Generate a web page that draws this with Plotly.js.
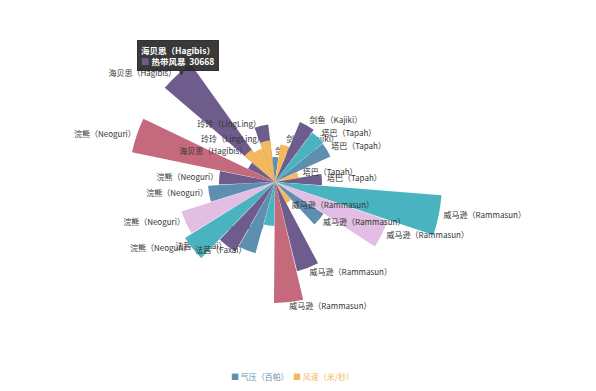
<!DOCTYPE html>
<html><head><meta charset="utf-8">
<script src="https://cdn.plot.ly/plotly-3.0.1.min.js"></script>
<style>html,body{margin:0;padding:0;background:#fff}#chart{width:596px;height:391px}</style>
</head><body><div id="chart"></div>
<script>
// ---- data ----
const typhoons = [
  "剑鱼（Kajiki）","剑鱼（Kajiki）","剑鱼（Kajiki）",
  "塔巴（Tapah）","塔巴（Tapah）","塔巴（Tapah）","塔巴（Tapah）",
  "威马逊（Rammasun）","威马逊（Rammasun）","威马逊（Rammasun）","威马逊（Rammasun）","威马逊（Rammasun）","威马逊（Rammasun）",
  "法茜（Faxai）","法茜（Faxai）","法茜（Faxai）",
  "浣熊（Neoguri）","浣熊（Neoguri）","浣熊（Neoguri）","浣熊（Neoguri）","浣熊（Neoguri）",
  "海贝思（Hagibis）","海贝思（Hagibis）","玲玲（LingLing）","玲玲（LingLing）"
];
const outerValues = [25,38,65,62,61,24,47,167,119,58,24,92,121,44,74,80,106,98,67,56,146,30,145,36,58];
const innerValues = [null,null,null,null,null,null,null,null,null,null,null,null,null,null,null,null,null,null,null,null,null,null,40,null,42];
// 1 = label drawn under the bars, 0 = over the bars, -1 = no label shown
const labelLayer = [1,1,0,0,0,0,0,0,0,0,0,0,0,1,0,1,0,0,0,0,0,-1,0,-1,0];
const tooltipName = "海贝思（Hagibis）";
const tooltipSeries = "热带风暴";
const tooltipValue = 30668;
const legendNames = ["气压（百帕）","风速（米/秒）"];

// ---- styles ----
const C = {purple:"#6e5d8c", pink:"#c46a7c", teal:"#4ab3c0", yellow:"#f5b95c", steel:"#5e8fb0", lilac:"#e2bde4"};
const barColors = [C.steel,C.yellow,C.purple,C.teal,C.steel,C.yellow,C.purple,C.teal,C.lilac,C.steel,C.yellow,C.purple,C.pink,
  C.teal,C.steel,C.purple,C.teal,C.lilac,C.steel,C.purple,C.pink,C.purple,C.purple,C.yellow,C.purple];
const innerColor = C.yellow;
const gapRight = 5, gapLeft = 1;

const slots = typhoons.map((_, i) => "s" + i);
const labelFont = {family:"Noto Sans CJK SC, sans-serif", size:8, color:"#333"};

function labelTrace(subplot, layer){
  const th=[], r=[], tx=[], pos=[];
  slots.forEach((s,i)=>{
    const right = i*360/slots.length < 180;
    const side = right?"middle right":"middle left";
    const gap = right?gapRight:gapLeft;
    if (labelLayer[i]===layer) { th.push(s); r.push(outerValues[i]+gap); tx.push(typhoons[i]); pos.push(side); }
    if (layer===0 && innerValues[i]!=null) { th.push(s); r.push(innerValues[i]+gap); tx.push(typhoons[i]); pos.push(side); }
  });
  return {type:"scatterpolar", subplot:subplot, mode:"text", theta:th, r:r, text:tx, textposition:pos, textfont:labelFont, hoverinfo:"skip", showlegend:false};
}

const data = [
  labelTrace("polar", 1),
  {type:"barpolar", subplot:"polar2", theta:slots, r:outerValues, marker:{color:barColors, line:{width:0}}, width:0.97, showlegend:false, hoverinfo:"skip"},
  {type:"barpolar", subplot:"polar2", theta:slots, r:innerValues, marker:{color:innerColor, line:{width:0}}, width:0.97, showlegend:false, hoverinfo:"skip"},
  labelTrace("polar2", 0)
];

const cx=275, cy=182, R=180, W=596, H=391;
function polarCfg(){
  return {
    domain:{x:[(cx-R)/W,(cx+R)/W], y:[(H-cy-R)/H,(H-cy+R)/H]},
    bgcolor:"rgba(0,0,0,0)", barmode:"overlay",
    radialaxis:{range:[0,R], visible:false, showgrid:false},
    angularaxis:{type:"category", categoryarray:slots, direction:"clockwise", rotation:90-0.7, visible:false, showgrid:false, showline:false}
  };
}
const layout = {
  width:W, height:H, margin:{l:0,r:0,t:0,b:0}, paper_bgcolor:"#fff", plot_bgcolor:"rgba(0,0,0,0)", showlegend:false, hovermode:false,
  polar:polarCfg(), polar2:polarCfg(),
  annotations:[
    {xref:"paper", yref:"paper", x:137/W, y:1-40/H, xanchor:"left", yanchor:"top", align:"left", showarrow:false,
     bgcolor:"rgba(40,40,40,0.92)", bordercolor:"rgba(40,40,40,0.92)", borderpad:3,
     text:"<b>"+tooltipName+"</b><br><span style='color:"+C.purple+"'>■</span> <b>"+tooltipSeries+"  "+tooltipValue+"</b>",
     font:{family:"Noto Sans CJK SC, sans-serif", size:8.5, color:"#fff"}},
    {xref:"paper", yref:"paper", x:181/W, y:1-72/H, xanchor:"center", yanchor:"middle", showarrow:false,
     text:"▼", font:{family:"DejaVu Sans, sans-serif", size:6, color:"#333"}},
    {xref:"paper", yref:"paper", x:229/W, y:1-376/H, xanchor:"left", yanchor:"middle", showarrow:false,
     text:"■ "+legendNames[0], font:{family:"Noto Sans CJK SC, sans-serif", size:8, color:C.steel}},
    {xref:"paper", yref:"paper", x:291/W, y:1-376/H, xanchor:"left", yanchor:"middle", showarrow:false,
     text:"■ "+legendNames[1], font:{family:"Noto Sans CJK SC, sans-serif", size:8, color:C.yellow}}
  ]
};
Plotly.newPlot("chart", data, layout, {displayModeBar:false, staticPlot:true});
</script></body></html>
